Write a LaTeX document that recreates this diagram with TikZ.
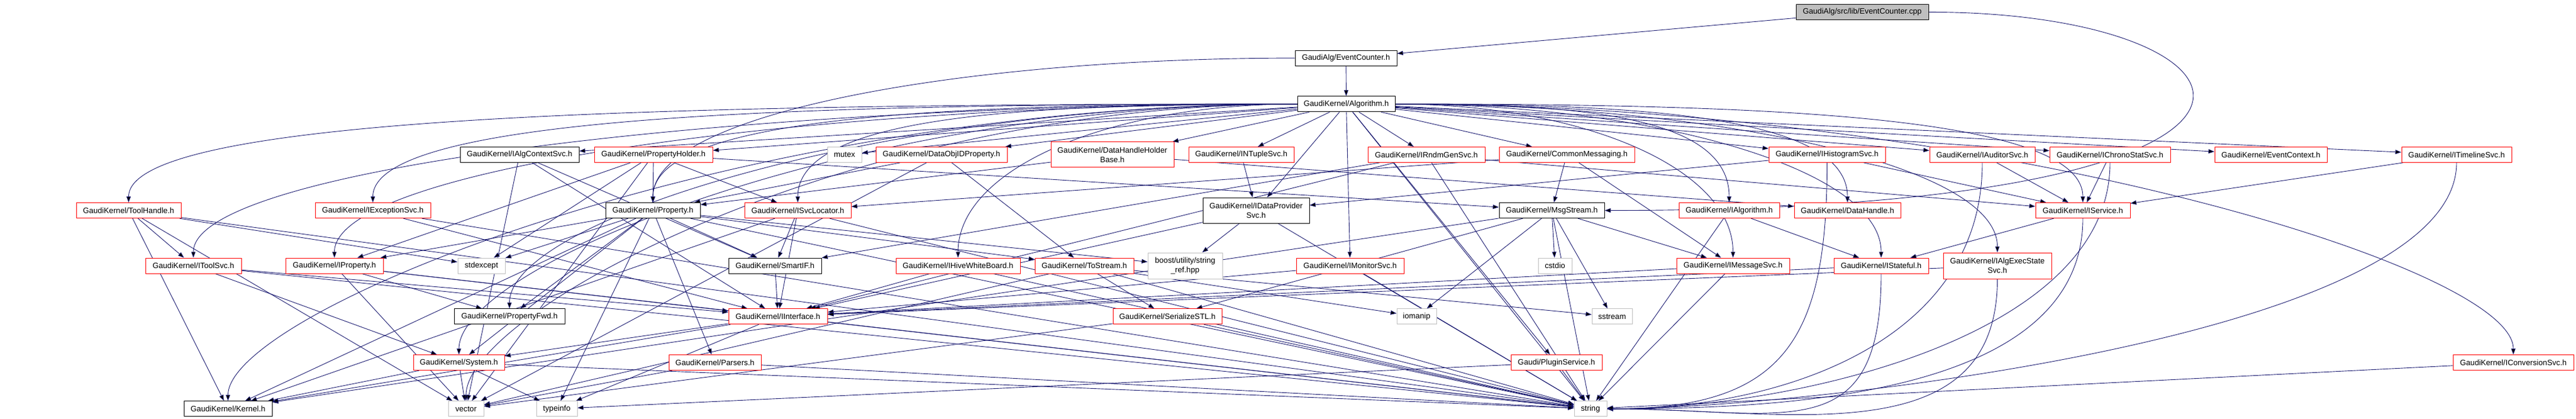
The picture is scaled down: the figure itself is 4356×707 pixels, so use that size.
\documentclass[tikz,border=0pt]{standalone}
\usepackage{fontspec}
\setmainfont{Liberation Sans}
\usetikzlibrary{arrows.meta,backgrounds}
\definecolor{midnight}{HTML}{191970}
\definecolor{lightgray}{HTML}{BFBFBF}
\tikzset{
  filebox/.style={draw,fill=white,line width=0.5pt,inner sep=0pt,minimum height=13pt,
    align=center,font=\fontsize{6.6}{8}\selectfont},
  redbox/.style={filebox,draw=red},
  blackbox/.style={filebox,draw=black},
  graybox/.style={filebox,draw=lightgray},
  rootbox/.style={filebox,draw=black,fill=lightgray},
  twoline/.style={minimum height=21.5pt},
  link/.style={->,draw=midnight,line width=0.45pt},
  fanleft/.style={out=180,in=90,out looseness=1.3,in distance=75pt},
  fanright/.style={out=0,in=90,out looseness=1.3,in distance=75pt},
  sweep/.style={out=-90,in=0,out distance=150pt,in distance=150pt},
}
\begin{document}
\begin{tikzpicture}[>={Stealth[length=5pt,width=3.6pt,inset=0pt]},x=0.5pt,y=-0.5pt]
\useasboundingbox (0,0) rectangle (4356,707);
% source file and its header
\node[rootbox,minimum width=112pt] (cpp) at (3149,20.4) {GaudiAlg/src/lib/EventCounter.cpp};
\node[blackbox,minimum width=86pt] (evh) at (2276,98.1) {GaudiAlg/EventCounter.h};
\node[blackbox,minimum width=82.5pt] (alg) at (2276.5,175.8) {GaudiKernel/Algorithm.h};
% row 3
\node[blackbox,minimum width=100.5pt] (algctx) at (878.5,261.4) {GaudiKernel/IAlgContextSvc.h};
\node[redbox,minimum width=100pt] (propholder) at (1105,261.4) {GaudiKernel/PropertyHolder.h};
\node[graybox,minimum width=29pt] (mutex) at (1428,261.4) {mutex};
\node[redbox,minimum width=111pt] (dataobjid) at (1592,261.4) {GaudiKernel/DataObjIDProperty.h};
\node[redbox,twoline,minimum width=104pt] (dhhb) at (1881,261.4) {GaudiKernel/DataHandleHolder\\Base.h};
\node[redbox,minimum width=89pt] (ntuple) at (2099,261.4) {GaudiKernel/INTupleSvc.h};
\node[redbox,minimum width=99pt] (rndm) at (2412,261.4) {GaudiKernel/IRndmGenSvc.h};
\node[redbox,minimum width=114.5pt] (commsg) at (2649.5,261.4) {GaudiKernel/CommonMessaging.h};
\node[redbox,minimum width=98.5pt] (histo) at (3089.5,261.4) {GaudiKernel/IHistogramSvc.h};
\node[redbox,minimum width=89pt] (auditor) at (3352,261.4) {GaudiKernel/IAuditorSvc.h};
\node[redbox,minimum width=102pt] (chrono) at (3568,261.4) {GaudiKernel/IChronoStatSvc.h};
\node[redbox,minimum width=95pt] (evctx) at (3840,261.4) {GaudiKernel/EventContext.h};
\node[redbox,minimum width=93pt] (timeline) at (4154,261.4) {GaudiKernel/ITimelineSvc.h};
% row 4
\node[redbox,minimum width=88.5pt] (toolhandle) at (217.5,355.6) {GaudiKernel/ToolHandle.h};
\node[redbox,minimum width=97.5pt] (excsvc) at (630.5,355.6) {GaudiKernel/IExceptionSvc.h};
\node[blackbox,minimum width=80pt] (property) at (1104,355.6) {GaudiKernel/Property.h};
\node[redbox,minimum width=90pt] (svcloc) at (1349,355.6) {GaudiKernel/ISvcLocator.h};
\node[blackbox,twoline,minimum width=90pt] (dataprov) at (2124,355.6) {GaudiKernel/IDataProvider\\Svc.h};
\node[blackbox,minimum width=89pt] (msgstream) at (2624,355.6) {GaudiKernel/MsgStream.h};
\node[redbox,minimum width=85pt] (ialg) at (2924,355.6) {GaudiKernel/IAlgorithm.h};
\node[redbox,minimum width=90pt] (datahandle) at (3124,355.6) {GaudiKernel/DataHandle.h};
\node[redbox,minimum width=80pt] (iservice) at (3522,355.6) {GaudiKernel/IService.h};
% row 5
\node[redbox,minimum width=81pt] (toolsvc) at (327,449) {GaudiKernel/IToolSvc.h};
\node[redbox,minimum width=82.5pt] (iprop) at (565.5,449) {GaudiKernel/IProperty.h};
\node[graybox,minimum width=40pt] (stdexcept) at (814,449) {stdexcept};
\node[blackbox,minimum width=78.5pt] (smartif) at (1310.5,449) {GaudiKernel/SmartIF.h};
\node[redbox,minimum width=105pt] (hive) at (1620,449) {GaudiKernel/IHiveWhiteBoard.h};
\node[redbox,minimum width=83.5pt] (tostream) at (1833.5,449) {GaudiKernel/ToStream.h};
\node[graybox,minimum width=63pt,minimum height=22pt] (boostref) at (2004,449) {boost/utility/string\\\_ref.hpp};
\node[redbox,minimum width=91pt] (monitor) at (2283,449) {GaudiKernel/IMonitorSvc.h};
\node[graybox,minimum width=28.5pt] (cstdio) at (2629.5,449) {cstdio};
\node[redbox,minimum width=95.5pt] (msgsvc) at (2930.5,449) {GaudiKernel/IMessageSvc.h};
\node[redbox,minimum width=80pt] (stateful) at (3181,449) {GaudiKernel/IStateful.h};
\node[redbox,minimum width=91.5pt,minimum height=22pt] (execstate) at (3377.5,449) {GaudiKernel/IAlgExecState\\Svc.h};
% row 6
\node[blackbox,minimum width=93.5pt] (propfwd) at (861.5,534.8) {GaudiKernel/PropertyFwd.h};
\node[redbox,minimum width=83.5pt] (iinterface) at (1315.5,534.8) {GaudiKernel/IInterface.h};
\node[redbox,minimum width=92pt] (serialize) at (1974,534.8) {GaudiKernel/SerializeSTL.h};
\node[graybox,minimum width=33.5pt] (iomanip) at (2395.5,534.8) {iomanip};
\node[graybox,minimum width=34pt] (sstream) at (2726,534.8) {sstream};
% row 7
\node[redbox,minimum width=77pt] (system) at (776,612.7) {GaudiKernel/System.h};
\node[redbox,minimum width=78pt] (parsers) at (1209,612.7) {GaudiKernel/Parsers.h};
\node[redbox,minimum width=77pt] (plugin) at (2632,612.7) {Gaudi/PluginService.h};
\node[redbox,minimum width=102pt] (conv) at (4250,612.7) {GaudiKernel/IConversionSvc.h};
% row 8
\node[blackbox,minimum width=74.5pt] (kernel) at (385.5,690.8) {GaudiKernel/Kernel.h};
\node[graybox,minimum width=30pt] (vector) at (788,690.8) {vector};
\node[graybox,minimum width=34.5pt] (typeinfo) at (941.5,690.8) {typeinfo};
\node[graybox,minimum width=27.5pt] (string) at (2689.5,690.8) {string};

\begin{scope}[on background layer]
\path[link] (cpp) edge (evh) edge[out=0,in=0,out distance=300pt,in distance=650pt] (msgstream);
\path[link] (evh) edge (alg) edge[fanleft] (property);
\path[link] (alg) edge (algctx) edge (propholder) edge (mutex) edge (dataobjid) edge (dhhb)
  edge (ntuple) edge (rndm) edge (commsg) edge (histo) edge (auditor) edge (chrono)
  edge (evctx) edge (timeline) edge (dataprov) edge (monitor) edge (plugin) edge (string);
\path[link] (alg) edge[fanleft] (toolhandle) edge[fanleft] (excsvc) edge[fanleft] (toolsvc)
  edge[fanleft] (iprop) edge[fanleft] (property) edge[fanleft] (svcloc) edge[fanleft] (hive)
  edge[fanleft] (system) edge[fanleft] (propfwd) edge[fanleft] (vector) edge[fanleft] (kernel);
\path[link] (alg) edge[fanright] (ialg) edge[fanright] (datahandle) edge[fanright] (msgsvc)
  edge[fanright] (stateful) edge[fanright] (execstate) edge[fanright] (iservice)
  edge[fanright] (conv);
\path[link] (toolhandle) edge (toolsvc) edge (stdexcept) edge (kernel) edge (string) edge (vector);
\path[link] (excsvc) edge (iinterface) edge (string);
\path[link] (toolsvc) edge (iinterface) edge (system) edge (string);
\path[link] (iprop) edge (iinterface) edge (propfwd) edge (string) edge (vector);
\path[link] (algctx) edge (iinterface) edge (smartif) edge (vector);
\path[link] (propholder) edge (property) edge (stdexcept) edge (iprop) edge (svcloc)
  edge (msgstream) edge (vector);
\path[link] (property) edge (stdexcept) edge (iprop) edge (kernel) edge (propfwd) edge (smartif)
  edge (system) edge (tostream) edge (parsers) edge (boostref) edge (typeinfo) edge (string);
\path[link] (svcloc) edge (iinterface) edge (smartif) edge (kernel) edge (string);
\path[link] (dataobjid) edge (property) edge (tostream) edge (vector);
\path[link] (dhhb) edge (property) edge (datahandle);
\path[link] (hive) edge (iinterface) edge (string);
\path[link] (ntuple) edge (dataprov);
\path[link] (dataprov) edge (boostref) edge (iinterface) edge (string);
\path[link] (monitor) edge (iinterface) edge (string);
\path[link] (rndm) edge (iservice) edge (smartif) edge (iinterface) edge (string);
\path[link] (commsg) edge (svcloc) edge (msgstream) edge (msgsvc);
\path[link] (msgstream) edge (msgsvc) edge (serialize) edge (cstdio) edge (iomanip)
  edge (sstream) edge (kernel) edge (string);
\path[link] (histo) edge (dataprov) edge (iservice) edge[sweep] (string);
\path[link] (ialg) edge (stateful) edge (string);
\path[link] (msgsvc) edge (iinterface) edge (string);
\path[link] (stateful) edge (iinterface) edge[sweep] (string);
\path[link] (execstate) edge (iinterface) edge[sweep] (string);
\path[link] (auditor) edge (iservice) edge[sweep] (string);
\path[link] (iservice) edge (stateful) edge[sweep] (string);
\path[link] (chrono) edge (iservice) edge[sweep] (string);
\path[link] (timeline) edge (iservice) edge[sweep] (string);
\path[link] (conv) edge (string);
\path[link] (tostream) edge (serialize) edge (iomanip) edge (sstream) edge (vector) edge (string);
\path[link] (serialize) edge (vector) edge (string);
\path[link] (smartif) edge (iinterface);
\path[link] (iinterface) edge (system) edge (kernel) edge (typeinfo) edge (string);
\path[link] (system) edge (kernel) edge (vector) edge (typeinfo) edge (string);
\path[link] (parsers) edge (vector) edge (string);
\path[link] (plugin) edge (typeinfo) edge (string);
\end{scope}
\end{tikzpicture}
\end{document}
